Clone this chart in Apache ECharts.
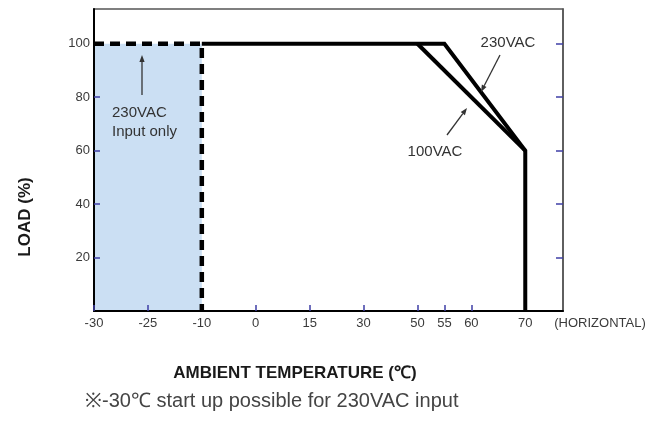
<!DOCTYPE html>
<html>
<head>
<meta charset="utf-8">
<script src="https://cdn.jsdelivr.net/npm/echarts@6/dist/echarts.min.js"></script>
<style>
  html, body { margin: 0; padding: 0; background: #fff; }
  #chart { width: 652px; height: 428px; }
</style>
</head>
<body>
<div id="chart"></div>
<script>
// x axis is not linear: each label sits on its own slot
const tempTicks = [-30, -25, -10, 0, 15, 30, 50, 55, 60, 70]
const tickSlots = [0, 1, 2, 3, 4, 5, 6, 6.5, 7, 8]
const loadTicks = [20, 40, 60, 80, 100]

// 230VAC input only zone (-30 .. -10)
const shadeTemp = [-30, -10]
const shadeLoad = [100, 100]
const inputOnlyTemp = [-30, -10, -10]
const inputOnlyLoad = [100, 100, 0]

// derating curves
const ac230Temp = [-10, 55, 70, 70]
const ac230Load = [100, 100, 60, 0]
const ac100Temp = [50, 70]
const ac100Load = [100, 60]

const FONT = '"Liberation Sans", Arial, sans-serif'
const TICK_BLUE = '#3f3fa6'

function toSlot(t) {
  for (let i = 0; i < tempTicks.length - 1; i++) {
    const a = tempTicks[i], b = tempTicks[i + 1]
    if (t >= a && t <= b) {
      return tickSlots[i] + (t - a) / (b - a) * (tickSlots[i + 1] - tickSlots[i])
    }
  }
  return tickSlots[tickSlots.length - 1]
}

function pairs(xs, ys) {
  return xs.map((t, i) => [toSlot(t), ys[i]])
}

// pointer line with a small head at (x2, y2)
function arrow(x1, y1, x2, y2) {
  const ang = Math.atan2(y2 - y1, x2 - x1)
  const len = 7, half = 2.6
  const bx = x2 - len * Math.cos(ang), by = y2 - len * Math.sin(ang)
  const px = -Math.sin(ang) * half, py = Math.cos(ang) * half
  return [
    { type: 'line', shape: { x1: x1, y1: y1, x2: bx, y2: by }, style: { stroke: '#333', lineWidth: 1.3 }, z: 10 },
    { type: 'polygon', shape: { points: [[x2, y2], [bx + px, by + py], [bx - px, by - py]] }, style: { fill: '#333' }, z: 10 }
  ]
}

function label(x, y, text, opt) {
  return {
    type: 'text', x: x, y: y, z: 10,
    style: Object.assign({ text: text, font: '15px ' + FONT, fill: '#333', align: 'center', verticalAlign: 'middle' }, opt || {})
  }
}

const chart = echarts.init(document.getElementById('chart'))

chart.setOption({
  animation: false,
  grid: {
    left: 94, top: 9, right: 89, bottom: 117,
    show: true, borderColor: '#555', borderWidth: 1.5, backgroundColor: 'transparent'
  },
  xAxis: {
    type: 'value', min: 0, max: 8.7,
    splitLine: { show: false },
    axisLine: { lineStyle: { color: '#000', width: 2 } },
    axisTick: { inside: true, length: 6, customValues: tickSlots, lineStyle: { color: TICK_BLUE, width: 1.5 } },
    axisLabel: {
      customValues: tickSlots, margin: 6, color: '#3a3a3a', fontSize: 13, fontFamily: FONT,
      formatter: v => {
        const i = tickSlots.indexOf(v)
        return i >= 0 ? String(tempTicks[i]) : ''
      }
    }
  },
  yAxis: [{
    type: 'value', min: 0, max: 113, position: 'left',
    splitLine: { show: false },
    axisLine: { show: true, lineStyle: { color: '#000', width: 2 } },
    axisTick: { show: true, inside: true, length: 6, customValues: loadTicks, lineStyle: { color: TICK_BLUE, width: 1.5 } },
    axisLabel: { customValues: loadTicks, margin: 4, color: '#3a3a3a', fontSize: 13, fontFamily: FONT }
  }, {
    type: 'value', min: 0, max: 113, position: 'right',
    splitLine: { show: false },
    axisLine: { show: true, lineStyle: { color: '#555', width: 1.5 } },
    axisTick: { show: true, inside: true, length: 7, customValues: loadTicks, lineStyle: { color: TICK_BLUE, width: 1.5 } },
    axisLabel: { show: false }
  }],
  series: [{
    name: 'zone',
    type: 'line',
    z: -1,
    symbol: 'none',
    data: pairs(shadeTemp, shadeLoad),
    lineStyle: { width: 0 },
    areaStyle: { color: '#cbdff3', opacity: 1, origin: 'start' }
  }, {
    name: '230VAC input only',
    type: 'line',
    symbol: 'none',
    clip: false,
    data: pairs(inputOnlyTemp, inputOnlyLoad),
    lineStyle: { color: '#000', width: 4.5, type: [10, 6], cap: 'butt', join: 'miter' }
  }, {
    name: '230VAC',
    type: 'line',
    symbol: 'none',
    clip: false,
    data: pairs(ac230Temp, ac230Load),
    lineStyle: { color: '#000', width: 4, join: 'miter' }
  }, {
    name: '100VAC',
    type: 'line',
    symbol: 'none',
    clip: false,
    data: pairs(ac100Temp, ac100Load),
    lineStyle: { color: '#000', width: 4, join: 'miter' }
  }],
  graphic: [
    label(508, 43, '230VAC'),
    label(435, 152, '100VAC'),
    label(112, 113, '230VAC', { align: 'left' }),
    label(112, 132, 'Input only', { align: 'left' }),
    ...arrow(500, 55, 481, 92),
    ...arrow(447, 135, 467, 108),
    ...arrow(142, 95, 142, 55),
    label(600, 323, '(HORIZONTAL)', { font: '13px ' + FONT, fill: '#3a3a3a' }),
    {
      type: 'text', x: 25, y: 217, rotation: Math.PI / 2, z: 10,
      style: { text: 'LOAD (%)', font: 'bold 17px ' + FONT, fill: '#1a1a1a', align: 'center', verticalAlign: 'middle' }
    },
    label(295, 373, 'AMBIENT TEMPERATURE (℃)', { font: 'bold 17px ' + FONT, fill: '#1a1a1a' }),
    label(85, 401, '※-30℃ start up possible for 230VAC input', { font: '20px ' + FONT, fill: '#444', align: 'left' })
  ]
})
</script>
</body>
</html>
